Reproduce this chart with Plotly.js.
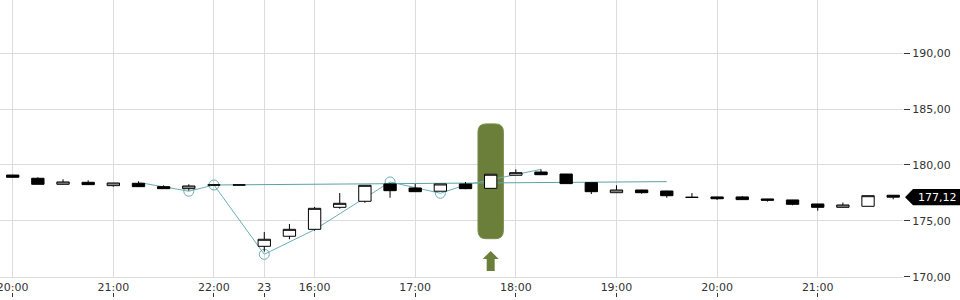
<!DOCTYPE html>
<html>
<head>
<meta charset="utf-8">
<script src="https://cdn.plot.ly/plotly-3.0.1.min.js"></script>
<style>html,body{margin:0;padding:0;background:#fff;}#chart{width:960px;height:300px;}</style>
</head>
<body>
<div id="chart"></div>
<script>
// 15-minute candles (category axis)
const times = ["22 20:00","22 20:15","22 20:30","22 20:45","22 21:00","22 21:15","22 21:30","22 21:45","22 22:00","22 22:15",
  "23 15:30","23 15:45","23 16:00","23 16:15","23 16:30","23 16:45","23 17:00","23 17:15","23 17:30","23 17:45",
  "23 18:00","23 18:15","23 18:30","23 18:45","23 19:00","23 19:15","23 19:30","23 19:45","23 20:00","23 20:15",
  "23 20:30","23 20:45","23 21:00","23 21:15","23 21:30","23 21:45"];
const openV  = [179.10,178.81,178.27,178.45,178.15,178.36,178.06,177.88,178.21,178.21,
  172.72,173.62,174.24,176.21,176.75,178.30,177.94,177.65,178.30,177.91,
  179.08,179.37,179.19,178.42,177.52,177.76,177.67,177.11,177.14,177.14,
  176.96,176.87,176.51,176.21,176.30,177.29];
const highV  = [179.13,178.90,178.72,178.63,178.39,178.54,178.18,178.27,178.23,178.22,
  174.00,174.72,176.24,177.49,178.20,178.36,178.30,178.30,178.48,179.17,
  179.61,179.60,179.20,178.42,178.18,177.78,177.70,177.49,177.15,177.22,
  176.97,176.88,176.52,176.63,177.25,177.30];
const lowV   = [178.88,178.27,178.25,178.24,178.06,178.06,177.88,177.70,178.19,178.20,
  172.24,173.35,174.12,176.09,176.62,177.07,177.60,177.65,177.83,177.91,
  179.08,179.10,178.33,177.40,177.50,177.43,177.07,177.10,176.87,176.90,
  176.72,176.39,175.91,176.20,176.30,176.93];
const closeV = [178.90,178.27,178.48,178.24,178.39,178.06,177.88,178.12,178.21,178.21,
  173.35,174.24,176.12,176.57,178.18,177.70,177.61,178.30,177.88,179.17,
  179.31,179.13,178.33,177.61,177.76,177.52,177.25,177.10,176.98,176.90,
  176.84,176.48,176.21,176.42,177.25,177.12];

// overlay line (teal) with open circle markers on some points
const lineTimes = ["22 21:15","22 21:30","22 21:45","22 22:00","23 15:30","23 16:00","23 16:45","23 17:15","23 17:30","23 18:15"];
const lineVals  = [178.44,178.06,177.65,178.21,172.00,174.21,178.48,177.47,178.21,179.61];
const circleTimes = ["22 21:45","22 22:00","23 15:30","23 16:45","23 17:15"];
// flat reference line
const refTimes = ["22 22:00","23 19:30"];
const refVals  = [178.21,178.51];

// axis labels
const tickCats  = ["22 20:00","22 21:00","22 22:00","23 15:30","23 16:00","23 17:00","23 18:00","23 19:00","23 20:00","23 21:00"];
const tickLabels = ["20:00","21:00","22:00","23","16:00","17:00","18:00","19:00","20:00","21:00"];
const lastPrice = 177.12;
const lastLabel = "177,12";
const highlightTime = "23 17:45";

const circleVals = circleTimes.map(t => lineVals[lineTimes.indexOf(t)]);
const tickIdx = tickCats.map(t => times.indexOf(t));

const xRange = [-0.505, 35.39];
const font = {family: "DejaVu Sans", size: 11, color: "#333"};

const traces = [
  {type: "scatter", mode: "lines", x: refTimes, y: refVals, line: {color: "#5aa2a8", width: 1}, hoverinfo: "skip"},
  {type: "scatter", mode: "lines", x: lineTimes, y: lineVals, line: {color: "#6aaeb5", width: 1}, hoverinfo: "skip"},
  {type: "scatter", mode: "markers", x: circleTimes, y: circleVals,
   marker: {symbol: "circle-open", size: 10, color: "#6aaeb5", line: {width: 1, color: "#6aaeb5"}}, hoverinfo: "skip"},
  {type: "candlestick", x: times, open: openV, high: highV, low: lowV, close: closeV, xaxis: "x2",
   increasing: {line: {color: "#000", width: 1}, fillcolor: "#fff"},
   decreasing: {line: {color: "#000", width: 1}, fillcolor: "#000"},
   whiskerwidth: 0, hoverinfo: "skip"},
  {type: "scatter", mode: "markers", x: tickIdx, y: tickIdx.map(() => 180), xaxis: "x3",
   marker: {opacity: 0, size: 1}, hoverinfo: "skip"}
];

const layout = {
  width: 960, height: 300,
  margin: {l: 0, r: 57, t: 0, b: 3, pad: 0},
  paper_bgcolor: "#fff", plot_bgcolor: "#fff",
  showlegend: false,
  separators: ",.",
  font: font,
  boxmode: "overlay",
  xaxis: {
    type: "category", categoryorder: "array", categoryarray: times,
    range: xRange, rangeslider: {visible: false},
    tickmode: "array", tickvals: tickCats, ticktext: tickLabels,
    ticks: "", showgrid: true, gridcolor: "#dcdcdc", gridwidth: 1,
    showline: true, linecolor: "#dcdcdc", linewidth: 1,
    zeroline: false, tickfont: font, fixedrange: true
  },
  xaxis2: {
    overlaying: "x", anchor: "y", type: "category", categoryorder: "array", categoryarray: times,
    range: xRange, rangeslider: {visible: false},
    showticklabels: false, ticks: "", showgrid: false, zeroline: false, showline: false, fixedrange: true
  },
  xaxis3: {
    overlaying: "x", anchor: "free", position: 0, type: "linear", range: xRange,
    tickmode: "array", tickvals: tickIdx, ticks: "inside", ticklen: 4, tickcolor: "#333",
    showticklabels: false, showgrid: false, zeroline: false, showline: false, fixedrange: true
  },
  yaxis: {
    domain: [0.0684, 1], side: "right", range: [170, 194.77],
    tickmode: "array", tickvals: [170, 175, 180, 185, 190], tickformat: ".2f",
    ticks: "outside", ticklen: 6, tickcolor: "#333", tickwidth: 1,
    showgrid: true, gridcolor: "#dcdcdc", zeroline: false, showline: false,
    tickfont: font, fixedrange: true
  },
  shapes: [
    {type: "path", layer: "between", xref: "x", yref: "y", xsizemode: "pixel", ysizemode: "pixel",
     xanchor: highlightTime, yanchor: 178.54,
     path: "M -4.7,57.4 L 4.7,57.4 Q 12.7,57.4 12.7,49.4 L 12.7,-49.4 Q 12.7,-57.4 4.7,-57.4 L -4.7,-57.4 Q -12.7,-57.4 -12.7,-49.4 L -12.7,49.4 Q -12.7,57.4 -4.7,57.4 Z",
     fillcolor: "#6b7f3b", line: {color: "#7a8d4a", width: 1}},
    {type: "path", layer: "above", xref: "x", yref: "y", xsizemode: "pixel", ysizemode: "pixel",
     xanchor: highlightTime, yanchor: 171.41,
     path: "M 0,10 L 8,2 L 4,2 L 4,-10 L -4,-10 L -4,2 L -8,2 Z",
     fillcolor: "#6b7f3b", line: {width: 0}},
    {type: "path", layer: "above", xref: "paper", yref: "y", xsizemode: "pixel", ysizemode: "pixel",
     xanchor: 1, yanchor: lastPrice,
     path: "M 2,0 L 10,8.2 L 58,8.2 L 58,-8.2 L 10,-8.2 Z",
     fillcolor: "#000", line: {width: 0}}
  ],
  annotations: [
    {xref: "paper", yref: "y", x: 1, y: lastPrice, xanchor: "left", yanchor: "middle", xshift: 13,
     text: lastLabel, showarrow: false, font: {family: "DejaVu Sans", size: 11, color: "#fff"}}
  ]
};

Plotly.newPlot("chart", traces, layout, {staticPlot: true, displayModeBar: false});
</script>
</body>
</html>
